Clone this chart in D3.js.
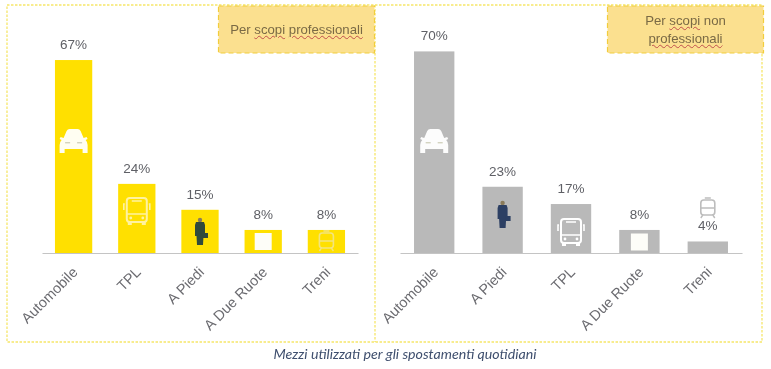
<!DOCTYPE html>
<html>
<head>
<meta charset="utf-8">
<script src="https://cdn.jsdelivr.net/npm/d3@7"></script>
<style>
  html, body { margin: 0; padding: 0; background: #fff; }
  svg { display: block; filter: blur(0.45px); }
  .note { font: 13.2px/18px "Liberation Sans", Arial, sans-serif; color: #7a6a45; text-align: center; height: 100%;
          display: flex; align-items: center; justify-content: center; }
  .note u { text-decoration: underline wavy #c0504d 1px; text-underline-offset: 1px; }
</style>
</head>
<body>
<div id="chart"></div>
<script>
const categoriesPro = ['Automobile', 'TPL', 'A Piedi', 'A Due Ruote', 'Treni'];
const valuesPro = [67, 24, 15, 8, 8];
const categoriesNon = ['Automobile', 'A Piedi', 'TPL', 'A Due Ruote', 'Treni'];
const valuesNon = [70, 23, 17, 8, 4];
const captionText = 'Mezzi utilizzati per gli spostamenti quotidiani';

const width = 771, height = 369;
const baseline = 253;
const pxPerPct = 2.88;

const svg = d3.select('#chart').append('svg')
    .attr('width', width)
    .attr('height', height);

// Icons, drawn around their centre
function drawCar(g) {
    g.append('path')
        .attr('d', 'M-10,-3 L-7,-10 Q-6,-12 -4,-12 L4,-12 Q6,-12 7,-10 L10,-3 L13,-4 L14,-2 L12,-1 Q14,1 14,4 L14,12 L9,12 L9,8 L-9,8 L-9,12 L-14,12 L-14,4 Q-14,1 -12,-1 L-14,-2 L-13,-4 Z')
        .attr('fill', '#fff')
        .attr('fill-opacity', 0.95);
    g.selectAll('.lamp').data([-6, 6]).enter().append('rect')
        .attr('x', d => d - 2.5).attr('y', 1).attr('width', 5).attr('height', 1.4)
        .attr('fill', '#c8c8b0').attr('opacity', 0.8);
}

function drawBus(g, color) {
    g.append('rect').attr('x', -10).attr('y', -13).attr('width', 20).attr('height', 24).attr('rx', 3)
        .attr('fill', 'none').attr('stroke', color).attr('stroke-width', 2);
    g.append('path').attr('d', 'M-10,3 H10 M-5,-10 H5 M-12,-7 H-13 V-1 M12,-7 H13 V-1')
        .attr('fill', 'none').attr('stroke', color).attr('stroke-width', 1.6);
    g.selectAll('.wheel').data([-7, 7]).enter().append('rect')
        .attr('x', d => d - 2).attr('y', 11).attr('width', 4).attr('height', 3).attr('fill', color);
    g.selectAll('.lamp').data([-6, 6]).enter().append('circle')
        .attr('cx', d => d).attr('cy', 7).attr('r', 1.4).attr('fill', color);
}

function drawPerson(g, color) {
    g.append('circle').attr('cx', 0).attr('cy', -11).attr('r', 2.2).attr('fill', '#8a7b5a');
    g.append('path')
        .attr('d', 'M-4,-9 L4,-9 L5,-6 L5,5 L3.5,5 L3,14 L-3,14 L-3.5,5 L-5,5 L-5,-6 Z')
        .attr('fill', color);
    g.append('rect').attr('x', 3).attr('y', 2).attr('width', 5).attr('height', 5).attr('fill', color);
}

function drawSquare(g) {
    g.append('rect').attr('x', -8.5).attr('y', -8.5).attr('width', 17).attr('height', 17).attr('fill', '#fdfdf8');
}

function drawTrain(g, color, opacity) {
    const t = g.append('g').attr('opacity', opacity);
    t.append('rect').attr('x', -7).attr('y', -8).attr('width', 14).attr('height', 15).attr('rx', 3)
        .attr('fill', 'none').attr('stroke', color).attr('stroke-width', 1.6);
    t.append('path').attr('d', 'M-7,0 H7 M-3,-10 H3 M-5,7 L-7,10 M5,7 L7,10')
        .attr('fill', 'none').attr('stroke', color).attr('stroke-width', 1.4);
}

function drawPanel(opts) {
    const { categories, values, range, color, padding, icons } = opts;
    const x = d3.scaleBand().domain(categories).range(range).paddingInner(padding).paddingOuter(padding / 2);
    const y = d3.scaleLinear().domain([0, 100]).range([baseline, baseline - 100 * pxPerPct]);
    const g = svg.append('g');

    g.selectAll('.bar')
        .data(values)
        .enter().append('rect')
        .attr('class', 'bar')
        .attr('x', (d, i) => x(categories[i]))
        .attr('y', d => y(d))
        .attr('width', x.bandwidth())
        .attr('height', d => y(0) - y(d))
        .attr('fill', color);

    g.selectAll('.val')
        .data(values)
        .enter().append('text')
        .attr('class', 'val')
        .attr('x', (d, i) => x(categories[i]) + x.bandwidth() / 2)
        .attr('y', d => y(d) - 11)
        .attr('text-anchor', 'middle')
        .attr('fill', '#5f6066')
        .style('font', '13.5px "Liberation Sans", Arial, sans-serif')
        .text(d => d + '%');

    const axis = d3.axisBottom(x).tickSize(0).tickPadding(0);
    g.append('g')
        .attr('transform', `translate(0,${baseline})`)
        .call(axis)
        .call(a => a.select('.domain').attr('stroke', '#c4c4c4').attr('stroke-width', 1.2))
        .call(a => a.selectAll('text')
            .attr('text-anchor', 'end')
            .attr('dy', 0)
            .attr('y', 0)
            .attr('transform', 'translate(5,20) rotate(-45)')
            .attr('fill', '#6b6b70')
            .style('font', '14.5px "Liberation Sans", Arial, sans-serif'));

    categories.forEach(c => {
        const ic = icons[c];
        const ig = g.append('g')
            .attr('transform', `translate(${x(c) + x.bandwidth() / 2 + (ic.dx || 0)},${ic.cy})`);
        ic.draw(ig);
    });
}

// Dashed frames
const frameColor = '#f6e66a';
svg.append('path')
    .attr('d', 'M7,5 H762 V342 H7 Z M375,5 V342')
    .attr('fill', 'none')
    .attr('stroke', frameColor)
    .attr('stroke-width', 1.3)
    .attr('stroke-dasharray', '2.5 1.5');

drawPanel({
    categories: categoriesPro,
    values: valuesPro,
    range: [42, 358],
    color: '#ffe000',
    padding: 0.41,
    icons: {
        'Automobile': { cy: 141, draw: drawCar },
        'TPL': { cy: 211, draw: g => drawBus(g, '#fff2a0') },
        'A Piedi': { cy: 231, draw: g => drawPerson(g, '#2f4a3c') },
        'A Due Ruote': { cy: 241.5, draw: drawSquare },
        'Treni': { cy: 241, draw: g => drawTrain(g, '#f2e58c', 0.9) }
    }
});

drawPanel({
    categories: categoriesNon,
    values: valuesNon,
    range: [400, 742],
    color: '#b9b9b9',
    padding: 0.41,
    icons: {
        'Automobile': { cy: 141, draw: drawCar },
        'A Piedi': { cy: 214, draw: g => drawPerson(g, '#2c3f63') },
        'TPL': { cy: 232, draw: g => drawBus(g, '#fff') },
        'A Due Ruote': { cy: 242, draw: drawSquare },
        'Treni': { cy: 208, draw: g => drawTrain(g, '#bdbdbd', 1) }
    }
});

// Notes in the top corners
const notes = [
    { x: 218.5, html: '<div>Per <u>scopi</u> <u>professionali</u></div>' },
    { x: 607.5, html: '<div>Per <u>scopi</u> non<br><u>professionali</u></div>' }
];
svg.selectAll('.note-box')
    .data(notes)
    .enter().append('rect')
    .attr('class', 'note-box')
    .attr('x', d => d.x)
    .attr('y', 6)
    .attr('width', 156)
    .attr('height', 47)
    .attr('fill', '#fbe08f')
    .attr('stroke', '#f2cd3c')
    .attr('stroke-width', 1.2)
    .attr('stroke-dasharray', '5 3');

svg.selectAll('.note-fo')
    .data(notes)
    .enter().append('foreignObject')
    .attr('class', 'note-fo')
    .attr('x', d => d.x)
    .attr('y', 6)
    .attr('width', 156)
    .attr('height', 47)
    .append('xhtml:div')
    .attr('class', 'note')
    .html(d => d.html);

svg.append('text')
    .attr('x', 405)
    .attr('y', 359)
    .attr('text-anchor', 'middle')
    .attr('fill', '#3f4f6e')
    .style('font', 'italic 14.2px Lato, sans-serif')
    .text(captionText);
</script>
</body>
</html>
